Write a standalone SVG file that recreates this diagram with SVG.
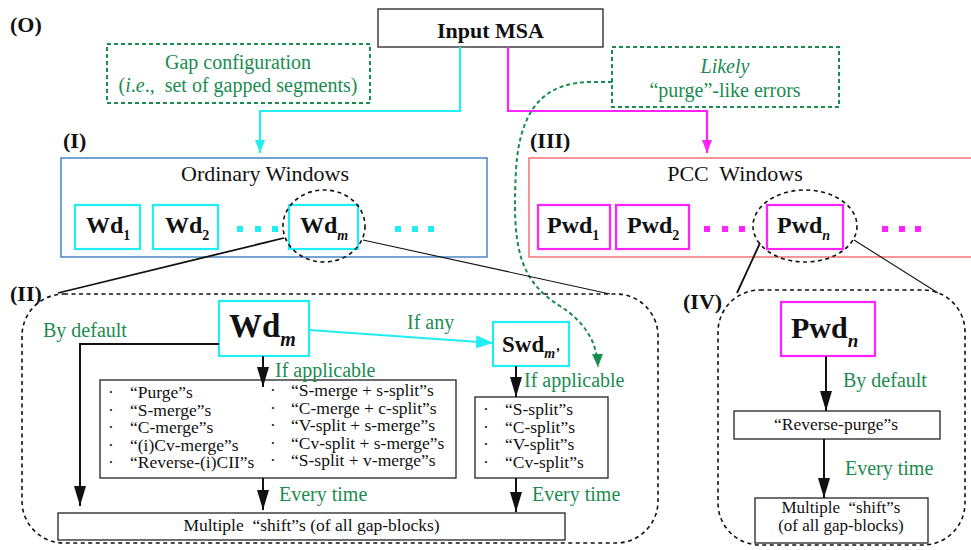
<svg xmlns="http://www.w3.org/2000/svg" width="971" height="550" viewBox="0 0 971 550" font-family="'Liberation Serif', Tinos, 'DejaVu Serif', serif">
  <style>
    text { font-family: "Liberation Serif", Tinos, "DejaVu Serif", serif; fill: #111; }
    .lbl { font-size: 22px; font-weight: bold; }
    .note { font-size: 20px; fill: #1a8c50; }
    .op { font-size: 17.5px; }
    .wd { font-size: 24px; font-weight: bold; }
    .sub { font-size: 14px; font-weight: bold; }
    .isub { font-style: italic; font-weight: bold; }
    .box { fill: #fff; stroke: #222; stroke-width: 1.3; }
    .cy { fill: #fff; stroke: #20eef2; stroke-width: 2.2; }
    .mg { fill: #fff; stroke: #ff22ff; stroke-width: 2.2; }
    .gdash { fill: #fff; stroke: #1a8c50; stroke-width: 2; stroke-dasharray: 4 3; }
    .region { fill: none; stroke: #111; stroke-width: 1.6; stroke-dasharray: 4 3.5; }
    .arrow { fill: none; stroke: #111; stroke-width: 2; marker-end: url(#ah); }
    .thin { fill: none; stroke: #111; }
  </style>
  <defs>
    <marker id="ah" markerUnits="userSpaceOnUse" markerWidth="20" markerHeight="12" refX="20" refY="6" viewBox="0 0 20 12" orient="auto">
      <path d="M0,0 L20,6 L0,12 z" fill="#111"/>
    </marker>
    <marker id="ahc" markerUnits="userSpaceOnUse" markerWidth="17" markerHeight="13" refX="17" refY="6.5" viewBox="0 0 17 13" orient="auto">
      <path d="M0,0 L17,6.5 L0,13 z" fill="#20eef2"/>
    </marker>
    <marker id="ahct" markerUnits="userSpaceOnUse" markerWidth="13" markerHeight="10" refX="13" refY="5" viewBox="0 0 13 10" orient="auto">
      <path d="M0,0 L13,5 L0,10 z" fill="#20eef2"/>
    </marker>
    <marker id="ahm" markerUnits="userSpaceOnUse" markerWidth="13" markerHeight="10" refX="13" refY="5" viewBox="0 0 13 10" orient="auto">
      <path d="M0,0 L13,5 L0,10 z" fill="#ff22ff"/>
    </marker>
    <marker id="ahg" markerUnits="userSpaceOnUse" markerWidth="13" markerHeight="11" refX="13" refY="5.5" viewBox="0 0 13 11" orient="auto">
      <path d="M0,0 L13,5.5 L0,11 z" fill="#1a8c50"/>
    </marker>
  </defs>

  <rect width="971" height="550" fill="#fff"/>

  <!-- section labels -->
  <g id="labels">
    <text class="lbl" x="10" y="32">(O)</text>
    <text class="lbl" x="63" y="148">(I)</text>
    <text class="lbl" x="530" y="148">(III)</text>
    <text class="lbl" x="10" y="301">(II)</text>
    <text class="lbl" x="683" y="309">(IV)</text>
  </g>

  <!-- zoom-out regions -->
  <g id="region-II">
    <rect class="region" x="22" y="294" width="636" height="249" rx="42"/>
  </g>
  <g id="region-IV">
    <rect class="region" x="718" y="290" width="247" height="255" rx="42"/>
  </g>

  <g id="input-msa">
    <rect x="378" y="9" width="225" height="38" fill="#fff" stroke="#333" stroke-width="1.4"/>
    <text x="490.5" y="38" font-size="22" font-weight="bold" text-anchor="middle">Input MSA</text>
  </g>

  <g id="note-gap">
    <rect class="gdash" x="107" y="44" width="263" height="59"/>
    <text class="note" x="238" y="69" text-anchor="middle">Gap configuration</text>
    <text class="note" x="238" y="92" text-anchor="middle">(<tspan font-style="italic">i</tspan>.<tspan font-style="italic">e</tspan>.,&#160; set of gapped segments)</text>
  </g>

  <g id="note-purge">
    <rect class="gdash" x="612" y="47" width="227" height="60"/>
    <text class="note" x="725" y="73" text-anchor="middle" font-style="italic">Likely</text>
    <text class="note" x="725" y="97" text-anchor="middle">“purge”-like errors</text>
  </g>

  <g id="ordinary-windows">
    <rect x="61" y="158" width="426" height="99" fill="#fff" stroke="#3a7cc4" stroke-width="1.4"/>
    <text x="265" y="181" font-size="22" text-anchor="middle">Ordinary Windows</text>
    <g id="wd1">
      <rect class="cy" x="75" y="205" width="65" height="44"/>
      <text class="wd" x="86" y="233">Wd<tspan class="sub" dy="7">1</tspan></text>
    </g>
    <g id="wd2">
      <rect class="cy" x="153" y="205" width="65" height="44"/>
      <text class="wd" x="165" y="233">Wd<tspan class="sub" dy="7">2</tspan></text>
    </g>
    <g fill="#20eef2">
      <rect x="237" y="226" width="6" height="6"/>
      <rect x="255" y="226" width="6" height="6"/>
      <rect x="272" y="226" width="6" height="6"/>
      <rect x="395" y="226" width="6" height="6"/>
      <rect x="412" y="226" width="6" height="6"/>
      <rect x="428" y="226" width="6" height="6"/>
    </g>
    <g id="wdm">
      <rect class="cy" x="289" y="205" width="69" height="44"/>
      <text class="wd" x="300" y="233">Wd<tspan class="sub isub" dy="7">m</tspan></text>
    </g>
    <ellipse cx="324" cy="226" rx="41" ry="36" fill="none" stroke="#111" stroke-width="1.6" stroke-dasharray="4 3.5"/>
  </g>

  <g id="pcc-windows">
    <rect x="529" y="158" width="450" height="99" fill="#fff" stroke="#f06a6a" stroke-width="1.4"/>
    <text x="735" y="181" font-size="22" text-anchor="middle">PCC&#160; Windows</text>
    <g id="pwd1">
      <rect class="mg" x="538" y="205" width="72" height="44"/>
      <text class="wd" x="547" y="233">Pwd<tspan class="sub" dy="7">1</tspan></text>
    </g>
    <g id="pwd2">
      <rect class="mg" x="616" y="205" width="73" height="44"/>
      <text class="wd" x="627" y="233">Pwd<tspan class="sub" dy="7">2</tspan></text>
    </g>
    <g fill="#ff22ff">
      <rect x="704" y="226" width="6" height="6"/>
      <rect x="722" y="226" width="6" height="6"/>
      <rect x="739" y="226" width="6" height="6"/>
      <rect x="882" y="226" width="6" height="6"/>
      <rect x="899" y="226" width="6" height="6"/>
      <rect x="915" y="226" width="6" height="6"/>
    </g>
    <g id="pwdn">
      <rect class="mg" x="767" y="205" width="76" height="44"/>
      <text class="wd" x="777" y="233">Pwd<tspan class="sub isub" dy="7">n</tspan></text>
    </g>
    <ellipse cx="805" cy="226" rx="52" ry="36" fill="none" stroke="#111" stroke-width="1.6" stroke-dasharray="4 3.5"/>
  </g>

  <!-- region II contents -->
  <g id="wdm-big">
    <rect class="cy" x="219" y="301" width="90" height="55"/>
    <text x="229" y="337" font-size="33" font-weight="bold">Wd<tspan class="isub" font-size="20" dy="9">m</tspan></text>
  </g>

  <g id="swd">
    <rect class="cy" x="493" y="322" width="76" height="44"/>
    <text x="502" y="352" font-size="23" font-weight="bold">Swd<tspan class="isub" font-size="14" dy="6">m’</tspan></text>
  </g>

  <g id="merge-ops">
    <rect class="box" x="100" y="380" width="356" height="98"/>
    <text class="op">
      <tspan x="108" y="398">·</tspan><tspan x="130" y="398">“Purge”s</tspan>
      <tspan x="108" y="415.5">·</tspan><tspan x="130" y="415.5">“S-merge”s</tspan>
      <tspan x="108" y="433">·</tspan><tspan x="130" y="433">“C-merge”s</tspan>
      <tspan x="108" y="450.5">·</tspan><tspan x="130" y="450.5">“(i)Cv-merge”s</tspan>
      <tspan x="108" y="468">·</tspan><tspan x="130" y="468">“Reverse-(i)CII”s</tspan>
    </text>
    <text class="op">
      <tspan x="270" y="396">·</tspan><tspan x="291" y="396">“S-merge + s-split”s</tspan>
      <tspan x="270" y="413.5">·</tspan><tspan x="291" y="413.5">“C-merge + c-split”s</tspan>
      <tspan x="270" y="431">·</tspan><tspan x="291" y="431">“V-split + s-merge”s</tspan>
      <tspan x="270" y="448.5">·</tspan><tspan x="291" y="448.5">“Cv-split + s-merge”s</tspan>
      <tspan x="270" y="466">·</tspan><tspan x="291" y="466">“S-split + v-merge”s</tspan>
    </text>
  </g>

  <g id="split-ops">
    <rect class="box" x="475" y="397" width="133" height="81"/>
    <text class="op">
      <tspan x="483" y="415">·</tspan><tspan x="505" y="415">“S-split”s</tspan>
      <tspan x="483" y="432.5">·</tspan><tspan x="505" y="432.5">“C-split”s</tspan>
      <tspan x="483" y="450">·</tspan><tspan x="505" y="450">“V-split”s</tspan>
      <tspan x="483" y="467.5">·</tspan><tspan x="505" y="467.5">“Cv-split”s</tspan>
    </text>
  </g>

  <g id="shifts-II">
    <rect class="box" x="58" y="513" width="507" height="27"/>
    <text class="op" x="311.5" y="531" text-anchor="middle">Multiple&#160; “shift”s (of all gap-blocks)</text>
  </g>

  <!-- region IV contents -->
  <g id="pwdn-big">
    <rect class="mg" x="781" y="302" width="94" height="54"/>
    <text x="791" y="338" font-size="30" font-weight="bold">Pwd<tspan class="isub" font-size="19" dy="9">n</tspan></text>
  </g>

  <g id="reverse-purge">
    <rect class="box" x="734" y="411" width="206" height="28"/>
    <text class="op" x="836" y="430" text-anchor="middle">“Reverse-purge”s</text>
  </g>

  <g id="shifts-IV">
    <rect class="box" x="755" y="498" width="173" height="45"/>
    <text font-size="17" text-anchor="middle"><tspan x="841" y="513">Multiple&#160; “shift”s</tspan><tspan x="841" y="530.5">(of all gap-blocks)</tspan></text>
  </g>

  <!-- connectors -->
  <g id="connectors">
    <path d="M460,47 V111 H260 V153" fill="none" stroke="#20eef2" stroke-width="2.2" marker-end="url(#ahct)"/>
    <path d="M508,47 V111 H707 V153" fill="none" stroke="#ff22ff" stroke-width="2.2" marker-end="url(#ahm)"/>
    <path d="M612,82 L592,82 C552,82 520,100 516,170 C512,245 518,280 560,306 C585,322 597,342 598,367" fill="none" stroke="#1a8c50" stroke-width="2" stroke-dasharray="4 3" marker-end="url(#ahg)"/>

    <path class="thin" d="M284,238 L58,293" stroke-width="1.8"/>
    <path class="thin" d="M363,240 L610,294" stroke-width="1.1"/>
    <path class="thin" d="M760,243 L737,293" stroke-width="1.8"/>
    <path class="thin" d="M854,240 L938,293" stroke-width="1.1"/>

    <path class="arrow" d="M219,344 H80 V506"/>
    <path class="arrow" d="M263,356 V387"/>
    <path class="arrow" d="M263,478 V510"/>
    <path d="M309,330 L493,343" fill="none" stroke="#20eef2" stroke-width="2.2" marker-end="url(#ahc)"/>
    <path class="arrow" d="M516,366 V397"/>
    <path class="arrow" d="M516,478 V512"/>
    <path class="arrow" d="M826,356 V411"/>
    <path class="arrow" d="M824,439 V498"/>
  </g>

  <!-- connector labels -->
  <g id="connector-labels">
    <text class="note" x="43" y="337">By default</text>
    <text class="note" x="275" y="377">If applicable</text>
    <text class="note" x="279" y="501">Every time</text>
    <text class="note" x="407" y="329">If any</text>
    <text class="note" x="524" y="387">If applicable</text>
    <text class="note" x="532" y="501">Every time</text>
    <text class="note" x="843" y="387">By default</text>
    <text class="note" x="845" y="475">Every time</text>
  </g>
</svg>
